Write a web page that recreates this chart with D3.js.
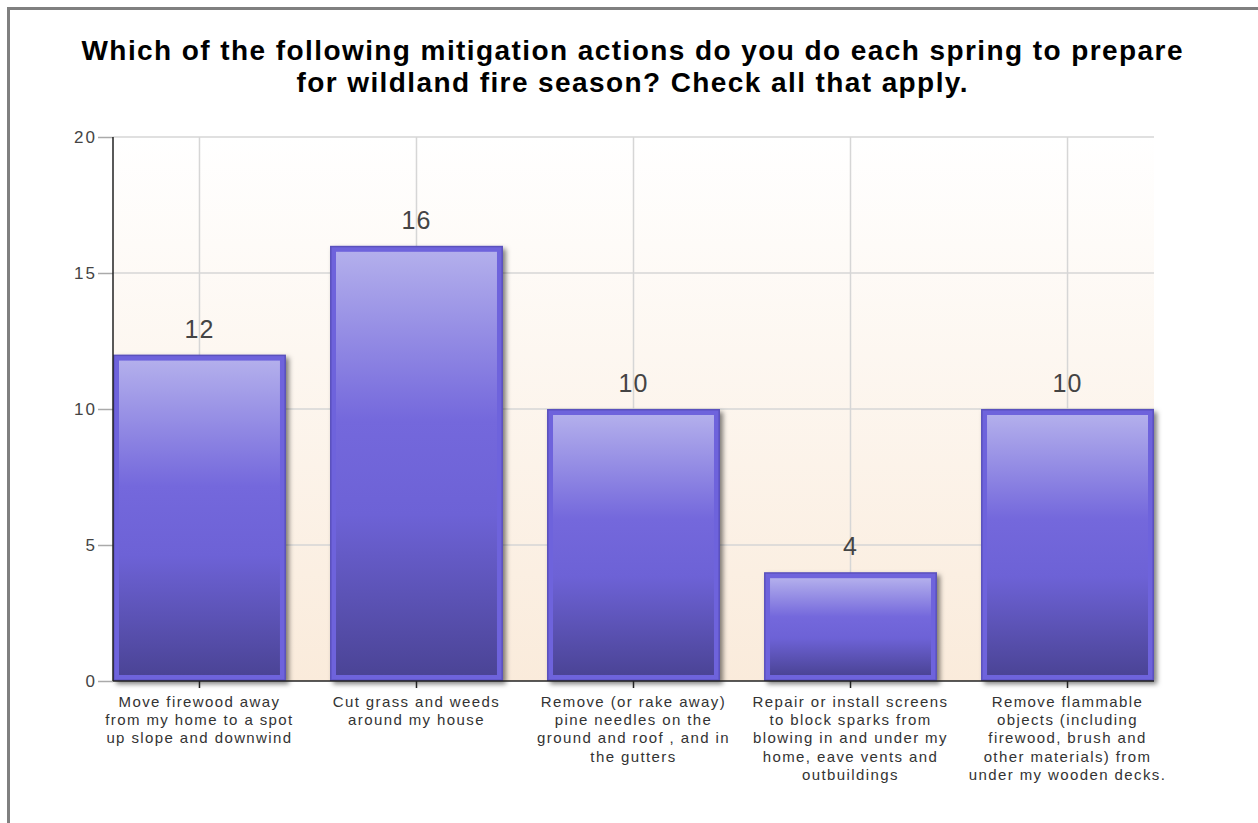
<!DOCTYPE html>
<html><head><meta charset="utf-8">
<script src="https://cdn.jsdelivr.net/npm/d3@7"></script>
<style>body{margin:0;background:#fff}svg{display:block}</style>
</head><body>
<script>
const categories = [
  ["Move firewood away", "from my home to a spot", "up slope and downwind"],
  ["Cut grass and weeds", "around my house"],
  ["Remove (or rake away)", "pine needles on the", "ground and roof , and in", "the gutters"],
  ["Repair or install screens", "to block sparks from", "blowing in and under my", "home, eave vents and", "outbuildings"],
  ["Remove flammable", "objects (including", "firewood, brush and", "other materials) from", "under my wooden decks."]
];
const values = [12, 16, 10, 4, 10];
const yTicks = [0, 5, 10, 15, 20];
const titleLines = ["Which of the following mitigation actions do you do each spring to prepare", "for wildland fire season? Check all that apply."];

(function(){
const W = 1258, H = 823;
const FONT = "Arial, 'Liberation Sans', sans-serif";
const svg = d3.select("body").append("svg").attr("width", W).attr("height", H);
const defs = svg.append("defs");

const bg = defs.append("linearGradient").attr("id","bg").attr("x1",0).attr("y1",0).attr("x2",0).attr("y2",1);
bg.append("stop").attr("offset","0%").attr("stop-color","#ffffff");
bg.append("stop").attr("offset","100%").attr("stop-color","#faebdb");

const bar = defs.append("linearGradient").attr("id","bar").attr("x1",0).attr("y1",0).attr("x2",0).attr("y2",1);
[["0%","#b3afec"],["40%","#7468dc"],["62%","#6d62d6"],["100%","#4b4496"]].forEach(s=>bar.append("stop").attr("offset",s[0]).attr("stop-color",s[1]));

const sh = defs.append("filter").attr("id","sh").attr("x","-10%").attr("y","-10%").attr("width","130%").attr("height","130%");
sh.append("feDropShadow").attr("dx",3).attr("dy",3).attr("stdDeviation",2.5).attr("flood-color","#000").attr("flood-opacity",0.5);

// frame
svg.append("rect").attr("x",8.5).attr("y",8.5).attr("width",W+10).attr("height",H+10)
  .attr("fill","none").attr("stroke","#808080").attr("stroke-width",3);

const pL = 113, pR = 1154, pT = 137, pB = 681;
const x = d3.scaleBand().domain(d3.range(categories.length)).range([pL, pR]).paddingInner(0.203).paddingOuter(0);
const xc = i => x(i) + x.bandwidth()/2;
const y = d3.scaleLinear().domain([0, 20]).range([pB, pT]);

svg.append("rect").attr("x",pL).attr("y",pT).attr("width",pR-pL).attr("height",pB-pT).attr("fill","url(#bg)");

// gridlines
svg.append("g").selectAll("line").data(yTicks.filter(d=>d>0)).join("line")
  .attr("x1",pL).attr("x2",pR).attr("y1",d=>y(d)).attr("y2",d=>y(d))
  .attr("stroke","#d6d6d6").attr("stroke-width",1.5);
svg.append("g").selectAll("line").data(d3.range(categories.length)).join("line")
  .attr("x1",d=>xc(d)).attr("x2",d=>xc(d)).attr("y1",pT).attr("y2",pB)
  .attr("stroke","#d6d6d6").attr("stroke-width",1.5);

// value labels
svg.append("g").selectAll("text").data(values).join("text")
  .attr("x",(d,i)=>xc(i)).attr("y",d=>y(d)-17)
  .attr("text-anchor","middle").attr("font-family",FONT)
  .attr("font-size",25).attr("letter-spacing",1).attr("fill","#444").text(d=>d);

// bars
const bw = x.bandwidth();
const bars = svg.append("g").selectAll("g").data(values).join("g");
bars.append("rect")
  .attr("x",(d,i)=>x(i)+0.75).attr("y",d=>y(d)+0.75)
  .attr("width",bw-1.5).attr("height",d=>pB-y(d)-1.5)
  .attr("fill","#6e63dc").attr("stroke","#5a51bd").attr("stroke-width",1.5)
  .attr("filter","url(#sh)");
bars.append("rect")
  .attr("x",(d,i)=>x(i)+6).attr("y",d=>y(d)+6)
  .attr("width",bw-12).attr("height",d=>pB-y(d)-12)
  .attr("fill","url(#bar)");

// axes
const yAxis = d3.axisLeft(y).tickValues(yTicks).tickSize(15).tickPadding(1);
const gy = svg.append("g").attr("transform",`translate(${pL},0)`).call(yAxis);
gy.select(".domain").remove();
gy.selectAll(".tick line").attr("stroke","#aaa").attr("stroke-width",1.5);
gy.selectAll(".tick text").attr("font-family",FONT).attr("font-size",17).attr("letter-spacing",2).attr("fill","#444");
svg.append("line").attr("x1",pL).attr("x2",pL).attr("y1",pT).attr("y2",pB).attr("stroke","#222").attr("stroke-width",1.5);

const xAxis = d3.axisBottom(x).tickSize(7).tickFormat("");
const gx = svg.append("g").attr("transform",`translate(0,${pB})`).call(xAxis);
gx.select(".domain").remove();
gx.selectAll(".tick line").attr("stroke","#222").attr("stroke-width",1.5);
svg.append("line").attr("x1",pL).attr("x2",pR).attr("y1",pB).attr("y2",pB).attr("stroke","#222").attr("stroke-width",1.5);

// category labels
const cl = svg.append("g").selectAll("text").data(categories).join("text")
  .attr("x",(d,i)=>xc(i)).attr("y",pB+26)
  .attr("text-anchor","middle").attr("font-family",FONT)
  .attr("font-size",15).attr("letter-spacing",1.4).attr("fill","#333");
cl.selectAll("tspan").data(d=>d).join("tspan")
  .attr("x",function(){return this.parentNode.getAttribute("x");})
  .attr("dy",(d,i)=>i===0?0:18.2).text(d=>d);

// title
const tLen = [1101, 671];
svg.append("g").selectAll("text").data(titleLines).join("text")
  .attr("x",632).attr("y",(d,i)=>60+i*32)
  .attr("text-anchor","middle").attr("font-family",FONT)
  .attr("font-weight","bold").attr("font-size",28).attr("fill","#000")
  .attr("textLength",(d,i)=>tLen[i]).attr("lengthAdjust","spacing").text(d=>d);
})();
</script>
</body></html>
